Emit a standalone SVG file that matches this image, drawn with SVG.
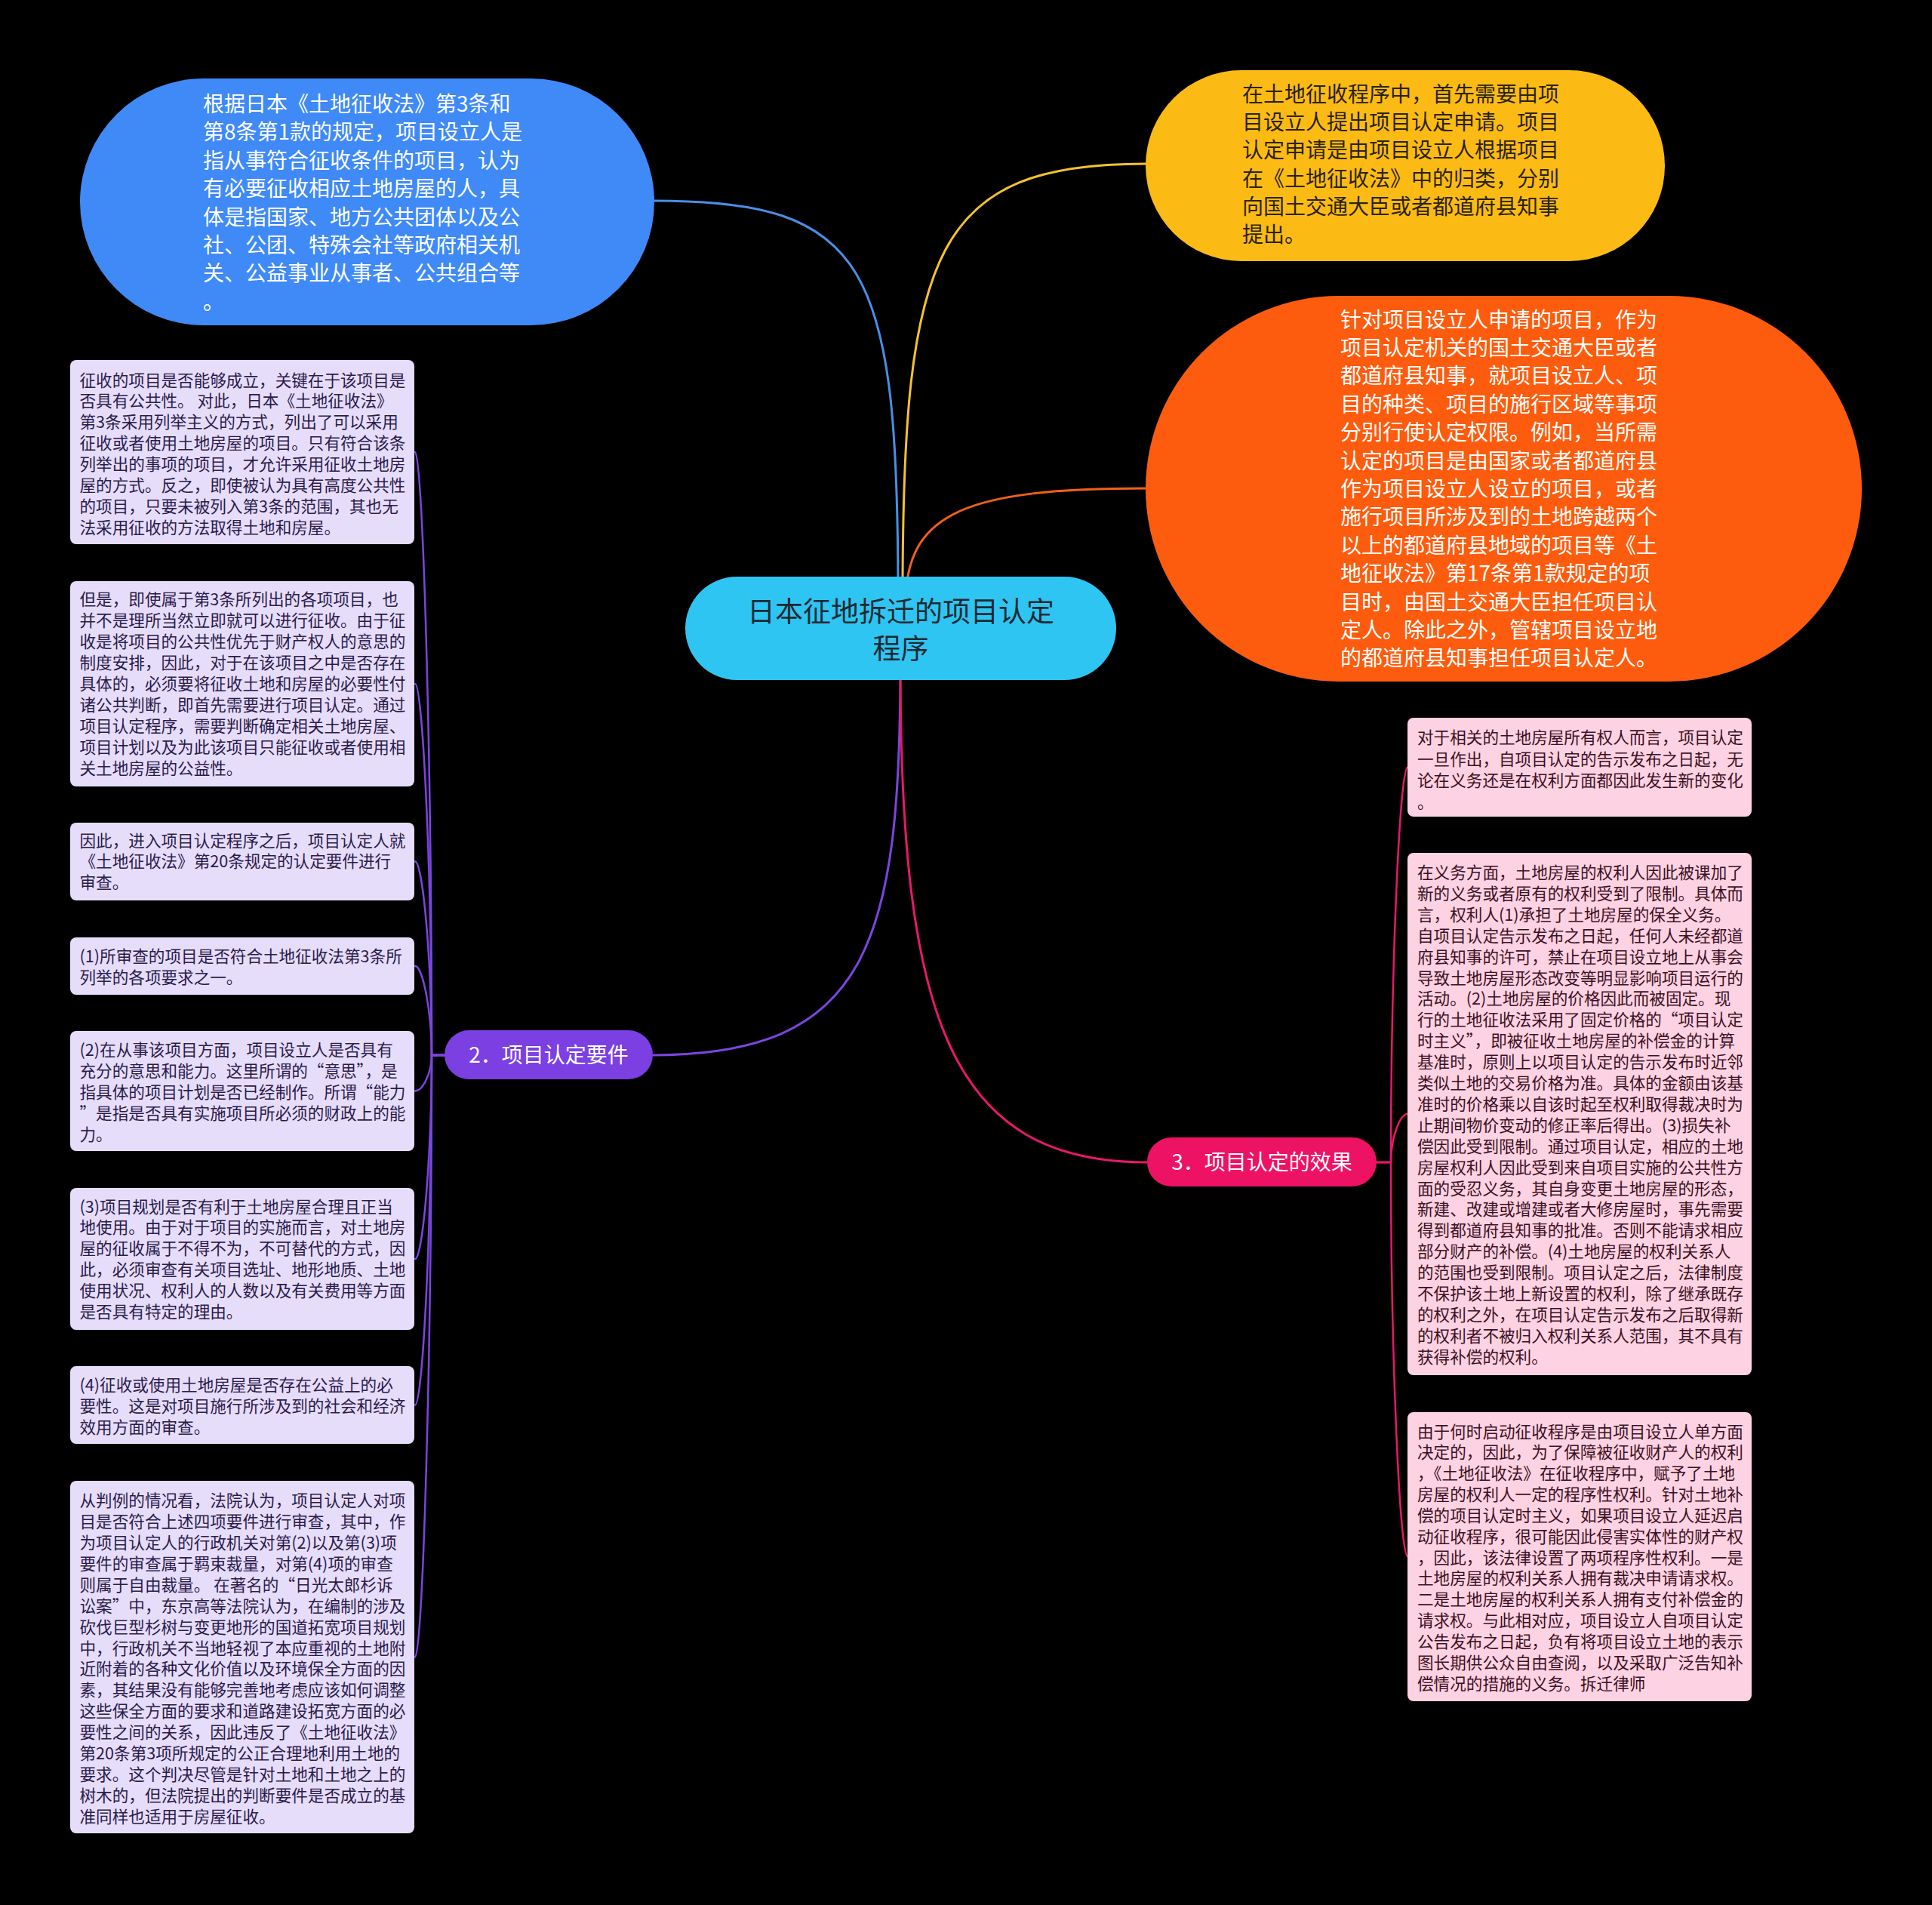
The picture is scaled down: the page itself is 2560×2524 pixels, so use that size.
<svg xmlns="http://www.w3.org/2000/svg" width="2560" height="2524" viewBox="0 0 2560 2524">
<style>
.t{font-family:"Noto Sans CJK SC","Noto Sans",sans-serif;}
.big{font-size:28px;}
.leaf{font-size:21.6px;}
.lp{fill:#e6ddfa;}
.rp{fill:#fdd2e2;}
.lt{fill:#2b1b4a;}
.rt{fill:#3c1022;}
.c{fill:none;stroke-width:3;stroke-linecap:round;}
</style>
<rect x="0" y="0" width="2560" height="2524" fill="#000000"/>
<g id="connectors">
<path class="c" stroke="#4a8ee8" d="M1190 790 C1190 350 1150 266 867 266"/>
<path class="c" stroke="#f5c230" d="M1196 790 C1196 330 1240 217 1518 217"/>
<path class="c" stroke="#f2601a" d="M1200 790 C1205 680 1280 647 1518 647"/>
<path class="c" stroke="#7b45e0" d="M1193 880 C1193 1250 1150 1398 865 1398"/>
<path class="c" stroke="#e8186a" d="M1193 880 C1193 1350 1260 1540 1520 1540"/>
<g stroke="#7b45e0" class="c" style="stroke-width:2.5">
<path d="M589 1398 H572 C572 998.5 560 599 550 599"/>
<path d="M589 1398 H572 C572 1152 560 906 550 906"/>
<path d="M589 1398 H572 C572 1269.8 560 1141.5 550 1141.5"/>
<path d="M589 1398 H572 C572 1339 560 1280 550 1280"/>
<path d="M589 1398 H572 C572 1421.8 560 1445.5 550 1445.5"/>
<path d="M589 1398 H572 C572 1533 560 1668 550 1668"/>
<path d="M589 1398 H572 C572 1629.8 560 1861.5 550 1861.5"/>
<path d="M589 1398 H572 C572 1796.8 560 2195.5 550 2195.5"/>
</g>
<g stroke="#e8186a" class="c" style="stroke-width:2.5">
<path d="M1824 1540 H1843 C1843 1278.3 1855 1016.5 1865 1016.5"/>
<path d="M1824 1540 H1843 C1843 1508 1855 1476 1865 1476"/>
<path d="M1824 1540 H1843 C1843 1801 1855 2062 1865 2062"/>
</g>
</g>
<g id="center">
<rect x="908" y="764" width="571" height="137" rx="68.5" fill="#2ec5f2"/>
<text class="t" font-size="37" fill="#1f2a33" text-anchor="middle"><tspan x="1193.5" y="824">日本征地拆迁的项目认定</tspan><tspan x="1193.5" y="873">程序</tspan></text>
</g>
<g id="n-blue">
<rect x="106" y="104" width="761" height="327" rx="163.5" fill="#3f8af6"/>
<text class="t big" fill="#ffffff"><tspan x="269" y="148">根据日本《土地征收法》第3条和</tspan><tspan x="269" y="185.4">第8条第1款的规定，项目设立人是</tspan><tspan x="269" y="222.8">指从事符合征收条件的项目，认为</tspan><tspan x="269" y="260.2">有必要征收相应土地房屋的人，具</tspan><tspan x="269" y="297.6">体是指国家、地方公共团体以及公</tspan><tspan x="269" y="335">社、公团、特殊会社等政府相关机</tspan><tspan x="269" y="372.4">关、公益事业从事者、公共组合等</tspan><tspan x="269" y="409.8">。</tspan></text>
</g>
<g id="n-yellow">
<rect x="1518" y="93" width="688" height="253" rx="126.5" fill="#fbbb14"/>
<text class="t big" fill="#2a2210"><tspan x="1646" y="135">在土地征收程序中，首先需要由项</tspan><tspan x="1646" y="172.2">目设立人提出项目认定申请。项目</tspan><tspan x="1646" y="209.4">认定申请是由项目设立人根据项目</tspan><tspan x="1646" y="246.6">在《土地征收法》中的归类，分别</tspan><tspan x="1646" y="283.8">向国土交通大臣或者都道府县知事</tspan><tspan x="1646" y="321">提出。</tspan></text>
</g>
<g id="n-orange">
<rect x="1518" y="392" width="949" height="511" rx="255.5" fill="#fd5c0e"/>
<text class="t big" fill="#ffffff"><tspan x="1776" y="433.6">针对项目设立人申请的项目，作为</tspan><tspan x="1776" y="471">项目认定机关的国土交通大臣或者</tspan><tspan x="1776" y="508.4">都道府县知事，就项目设立人、项</tspan><tspan x="1776" y="545.8">目的种类、项目的施行区域等事项</tspan><tspan x="1776" y="583.2">分别行使认定权限。例如，当所需</tspan><tspan x="1776" y="620.6">认定的项目是由国家或者都道府县</tspan><tspan x="1776" y="658">作为项目设立人设立的项目，或者</tspan><tspan x="1776" y="695.4">施行项目所涉及到的土地跨越两个</tspan><tspan x="1776" y="732.8">以上的都道府县地域的项目等《土</tspan><tspan x="1776" y="770.2">地征收法》第17条第1款规定的项</tspan><tspan x="1776" y="807.6">目时，由国土交通大臣担任项目认</tspan><tspan x="1776" y="845">定人。除此之外，管辖项目设立地</tspan><tspan x="1776" y="882.4">的都道府县知事担任项目认定人。</tspan></text>
</g>
<g id="n-req">
<rect x="589" y="1365" width="276" height="65" rx="32.5" fill="#7b3fe2"/>
<text class="t" font-size="28" fill="#ffffff" x="727" y="1408" text-anchor="middle">2．项目认定要件</text>
</g>
<g id="n-eff">
<rect x="1520" y="1507" width="304" height="65" rx="32.5" fill="#ee1264"/>
<text class="t" font-size="28" fill="#ffffff" x="1672" y="1550" text-anchor="middle">3．项目认定的效果</text>
</g>
<g id="l1">
<rect class="lp" x="93" y="477" width="456" height="244" rx="8"/>
<text class="t leaf lt"><tspan x="105.5" y="511.5">征收的项目是否能够成立，关键在于该项目是</tspan><tspan x="105.5" dy="27.9">否具有公共性。 对此，日本《土地征收法》</tspan><tspan x="105.5" dy="27.9">第3条采用列举主义的方式，列出了可以采用</tspan><tspan x="105.5" dy="27.9">征收或者使用土地房屋的项目。只有符合该条</tspan><tspan x="105.5" dy="27.9">列举出的事项的项目，才允许采用征收土地房</tspan><tspan x="105.5" dy="27.9">屋的方式。反之，即使被认为具有高度公共性</tspan><tspan x="105.5" dy="27.9">的项目，只要未被列入第3条的范围，其也无</tspan><tspan x="105.5" dy="27.9">法采用征收的方法取得土地和房屋。</tspan></text>
</g>
<g id="l2">
<rect class="lp" x="93" y="770" width="456" height="272" rx="8"/>
<text class="t leaf lt"><tspan x="105.5" y="802">但是，即使属于第3条所列出的各项项目，也</tspan><tspan x="105.5" dy="28">并不是理所当然立即就可以进行征收。由于征</tspan><tspan x="105.5" dy="28">收是将项目的公共性优先于财产权人的意思的</tspan><tspan x="105.5" dy="28">制度安排，因此，对于在该项目之中是否存在</tspan><tspan x="105.5" dy="28">具体的，必须要将征收土地和房屋的必要性付</tspan><tspan x="105.5" dy="28">诸公共判断，即首先需要进行项目认定。通过</tspan><tspan x="105.5" dy="28">项目认定程序，需要判断确定相关土地房屋、</tspan><tspan x="105.5" dy="28">项目计划以及为此该项目只能征收或者使用相</tspan><tspan x="105.5" dy="28">关土地房屋的公益性。</tspan></text>
</g>
<g id="l3">
<rect class="lp" x="93" y="1090" width="456" height="103" rx="8"/>
<text class="t leaf lt"><tspan x="105.5" y="1121.5">因此，进入项目认定程序之后，项目认定人就</tspan><tspan x="105.5" dy="27.9">《土地征收法》第20条规定的认定要件进行</tspan><tspan x="105.5" dy="27.9">审查。</tspan></text>
</g>
<g id="l4">
<rect class="lp" x="93" y="1242" width="456" height="76" rx="8"/>
<text class="t leaf lt"><tspan x="105.5" y="1275">(1)所审查的项目是否符合土地征收法第3条所</tspan><tspan x="105.5" dy="27.9">列举的各项要求之一。</tspan></text>
</g>
<g id="l5">
<rect class="lp" x="93" y="1366" width="456" height="159" rx="8"/>
<text class="t leaf lt"><tspan x="105.5" y="1398.5">(2)在从事该项目方面，项目设立人是否具有</tspan><tspan x="105.5" dy="28">充分的意思和能力。这里所谓的“意思”，是</tspan><tspan x="105.5" dy="28">指具体的项目计划是否已经制作。所谓“能力</tspan><tspan x="105.5" dy="28">”是指是否具有实施项目所必须的财政上的能</tspan><tspan x="105.5" dy="28">力。</tspan></text>
</g>
<g id="l6">
<rect class="lp" x="93" y="1574" width="456" height="188" rx="8"/>
<text class="t leaf lt"><tspan x="105.5" y="1606.5">(3)项目规划是否有利于土地房屋合理且正当</tspan><tspan x="105.5" dy="27.9">地使用。由于对于项目的实施而言，对土地房</tspan><tspan x="105.5" dy="27.9">屋的征收属于不得不为，不可替代的方式，因</tspan><tspan x="105.5" dy="27.9">此，必须审查有关项目选址、地形地质、土地</tspan><tspan x="105.5" dy="27.9">使用状况、权利人的人数以及有关费用等方面</tspan><tspan x="105.5" dy="27.9">是否具有特定的理由。</tspan></text>
</g>
<g id="l7">
<rect class="lp" x="93" y="1810" width="456" height="103" rx="8"/>
<text class="t leaf lt"><tspan x="105.5" y="1843">(4)征收或使用土地房屋是否存在公益上的必</tspan><tspan x="105.5" dy="27.9">要性。这是对项目施行所涉及到的社会和经济</tspan><tspan x="105.5" dy="27.9">效用方面的审查。</tspan></text>
</g>
<g id="l8">
<rect class="lp" x="93" y="1962" width="456" height="467" rx="8"/>
<text class="t leaf lt"><tspan x="105.5" y="1996">从判例的情况看，法院认为，项目认定人对项</tspan><tspan x="105.5" dy="27.93">目是否符合上述四项要件进行审查，其中，作</tspan><tspan x="105.5" dy="27.93">为项目认定人的行政机关对第(2)以及第(3)项</tspan><tspan x="105.5" dy="27.93">要件的审查属于羁束裁量，对第(4)项的审查</tspan><tspan x="105.5" dy="27.93">则属于自由裁量。 在著名的“日光太郎杉诉</tspan><tspan x="105.5" dy="27.93">讼案”中，东京高等法院认为，在编制的涉及</tspan><tspan x="105.5" dy="27.93">砍伐巨型杉树与变更地形的国道拓宽项目规划</tspan><tspan x="105.5" dy="27.93">中，行政机关不当地轻视了本应重视的土地附</tspan><tspan x="105.5" dy="27.93">近附着的各种文化价值以及环境保全方面的因</tspan><tspan x="105.5" dy="27.93">素，其结果没有能够完善地考虑应该如何调整</tspan><tspan x="105.5" dy="27.93">这些保全方面的要求和道路建设拓宽方面的必</tspan><tspan x="105.5" dy="27.93">要性之间的关系，因此违反了《土地征收法》</tspan><tspan x="105.5" dy="27.93">第20条第3项所规定的公正合理地利用土地的</tspan><tspan x="105.5" dy="27.93">要求。这个判决尽管是针对土地和土地之上的</tspan><tspan x="105.5" dy="27.93">树木的，但法院提出的判断要件是否成立的基</tspan><tspan x="105.5" dy="27.93">准同样也适用于房屋征收。</tspan></text>
</g>
<g id="r1">
<rect class="rp" x="1865" y="951" width="456" height="131" rx="8"/>
<text class="t leaf rt"><tspan x="1878" y="985">对于相关的土地房屋所有权人而言，项目认定</tspan><tspan x="1878" dy="28.5">一旦作出，自项目认定的告示发布之日起，无</tspan><tspan x="1878" dy="28.5">论在义务还是在权利方面都因此发生新的变化</tspan><tspan x="1878" dy="28.5">。</tspan></text>
</g>
<g id="r2">
<rect class="rp" x="1865" y="1130" width="456" height="692" rx="8"/>
<text class="t leaf rt"><tspan x="1878" y="1164">在义务方面，土地房屋的权利人因此被课加了</tspan><tspan x="1878" dy="27.9">新的义务或者原有的权利受到了限制。具体而</tspan><tspan x="1878" dy="27.9">言，权利人(1)承担了土地房屋的保全义务。</tspan><tspan x="1878" dy="27.9">自项目认定告示发布之日起，任何人未经都道</tspan><tspan x="1878" dy="27.9">府县知事的许可，禁止在项目设立地上从事会</tspan><tspan x="1878" dy="27.9">导致土地房屋形态改变等明显影响项目运行的</tspan><tspan x="1878" dy="27.9">活动。(2)土地房屋的价格因此而被固定。现</tspan><tspan x="1878" dy="27.9">行的土地征收法采用了固定价格的“项目认定</tspan><tspan x="1878" dy="27.9">时主义”，即被征收土地房屋的补偿金的计算</tspan><tspan x="1878" dy="27.9">基准时，原则上以项目认定的告示发布时近邻</tspan><tspan x="1878" dy="27.9">类似土地的交易价格为准。具体的金额由该基</tspan><tspan x="1878" dy="27.9">准时的价格乘以自该时起至权利取得裁决时为</tspan><tspan x="1878" dy="27.9">止期间物价变动的修正率后得出。(3)损失补</tspan><tspan x="1878" dy="27.9">偿因此受到限制。通过项目认定，相应的土地</tspan><tspan x="1878" dy="27.9">房屋权利人因此受到来自项目实施的公共性方</tspan><tspan x="1878" dy="27.9">面的受忍义务，其自身变更土地房屋的形态，</tspan><tspan x="1878" dy="27.9">新建、改建或增建或者大修房屋时，事先需要</tspan><tspan x="1878" dy="27.9">得到都道府县知事的批准。否则不能请求相应</tspan><tspan x="1878" dy="27.9">部分财产的补偿。(4)土地房屋的权利关系人</tspan><tspan x="1878" dy="27.9">的范围也受到限制。项目认定之后，法律制度</tspan><tspan x="1878" dy="27.9">不保护该土地上新设置的权利，除了继承既存</tspan><tspan x="1878" dy="27.9">的权利之外，在项目认定告示发布之后取得新</tspan><tspan x="1878" dy="27.9">的权利者不被归入权利关系人范围，其不具有</tspan><tspan x="1878" dy="27.9">获得补偿的权利。</tspan></text>
</g>
<g id="r3">
<rect class="rp" x="1865" y="1871" width="456" height="383" rx="8"/>
<text class="t leaf rt"><tspan x="1878" y="1904.5">由于何时启动征收程序是由项目设立人单方面</tspan><tspan x="1878" dy="27.85">决定的，因此，为了保障被征收财产人的权利</tspan><tspan x="1878" dy="27.85">，《土地征收法》在征收程序中，赋予了土地</tspan><tspan x="1878" dy="27.85">房屋的权利人一定的程序性权利。针对土地补</tspan><tspan x="1878" dy="27.85">偿的项目认定时主义，如果项目设立人延迟启</tspan><tspan x="1878" dy="27.85">动征收程序，很可能因此侵害实体性的财产权</tspan><tspan x="1878" dy="27.85">，因此，该法律设置了两项程序性权利。一是</tspan><tspan x="1878" dy="27.85">土地房屋的权利关系人拥有裁决申请请求权。</tspan><tspan x="1878" dy="27.85">二是土地房屋的权利关系人拥有支付补偿金的</tspan><tspan x="1878" dy="27.85">请求权。与此相对应，项目设立人自项目认定</tspan><tspan x="1878" dy="27.85">公告发布之日起，负有将项目设立土地的表示</tspan><tspan x="1878" dy="27.85">图长期供公众自由查阅，以及采取广泛告知补</tspan><tspan x="1878" dy="27.85">偿情况的措施的义务。拆迁律师</tspan></text>
</g>
</svg>
